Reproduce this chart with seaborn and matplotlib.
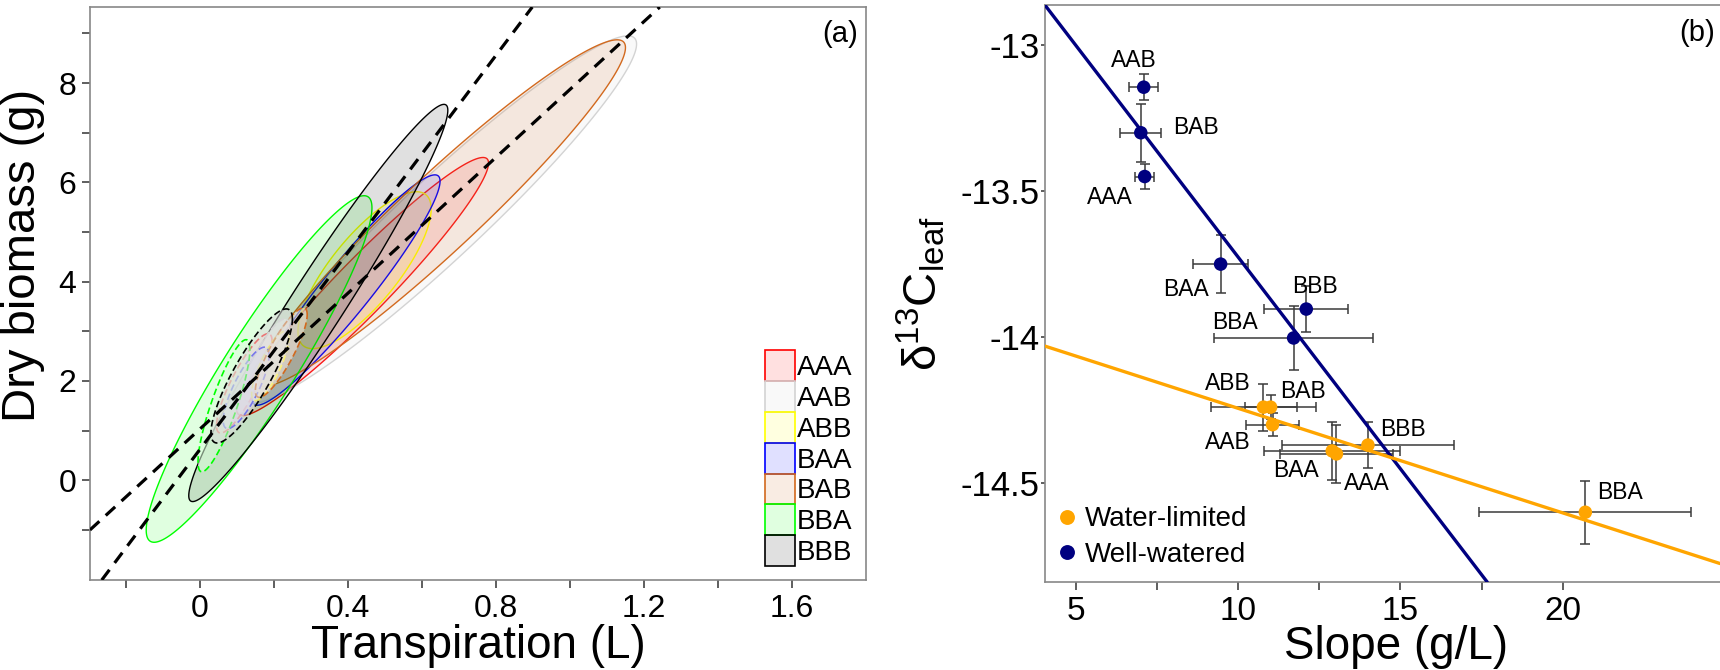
import numpy as np
import pandas as pd
import matplotlib
matplotlib.use('Agg')
import matplotlib.pyplot as plt
import seaborn as sns
from matplotlib.colors import to_rgba, to_rgb
from matplotlib.patches import Patch
from matplotlib.ticker import FixedLocator

# ---- panel (a): ellipses per genotype (centre, half-range x / y, correlation)
genotypes = ['AAA', 'AAB', 'ABB', 'BAA', 'BAB', 'BBA', 'BBB']
geno_colors = ['#FF0000', '#D3D3D3', '#FFFF00', '#0000FF', '#D2691E', '#00FF00', '#000000']

# large (solid) ellipses
solid_mx = [0.44, 0.65, 0.445, 0.395, 0.65, 0.16, 0.32]
solid_my = [3.9, 5.25, 4.23, 3.83, 5.38, 2.24, 3.57]
solid_ax = [0.34, 0.53, 0.18, 0.254, 0.50, 0.305, 0.35]
solid_by = [2.6, 3.7, 1.58, 2.32, 3.49, 3.49, 4.0]
solid_rho = [0.956, 0.955, 0.78, 0.945, 0.955, 0.93, 0.97]

# small (dashed) ellipses
dash_mx = [0.12, 0.17, 0.19, 0.125, 0.22, 0.065, 0.14]
dash_my = [1.95, 2.3, 2.3, 1.86, 2.57, 1.5, 2.1]
dash_ax = [0.075, 0.07, 0.05, 0.062, 0.07, 0.07, 0.11]
dash_by = [1.0, 0.95, 0.7, 0.82, 0.9, 1.33, 1.35]
dash_rho = [0.85, 0.85, 0.8, 0.8, 0.85, 0.85, 0.85]

# dashed fit lines in panel (a)
fit_a_slope = [9.92, 6.84]
fit_a_icpt = [0.62, 1.03]

# ---- panel (b)
b_geno = ['AAB', 'BAB', 'AAA', 'BAA', 'BBB', 'BBA',
          'ABB', 'BAB', 'AAB', 'BAA', 'AAA', 'BBB', 'BBA']
b_treat = ['Well-watered'] * 6 + ['Water-limited'] * 7
b_slope = [7.09, 7.0, 7.12, 9.46, 12.1, 11.71,
           10.78, 11.0, 11.06, 12.9, 13.03, 14.0, 20.7]
b_slope_err = [0.45, 0.63, 0.3, 0.85, 1.3, 2.45,
               1.63, 0.8, 0.83, 2.1, 1.75, 2.66, 3.27]
b_d13c = [-13.144, -13.30, -13.45, -13.75, -13.904, -14.003,
          -14.24, -14.24, -14.30, -14.39, -14.40, -14.37, -14.60]
b_d13c_err = [0.045, 0.1, 0.043, 0.1, 0.08, 0.11,
              0.08, 0.04, 0.04, 0.1, 0.1, 0.08, 0.108]

fit_b_treat = ['Well-watered', 'Water-limited']
fit_b_slope = [-0.145, -0.0358]
fit_b_icpt = [-12.276, -13.886]

treat_colors = {'Water-limited': '#FFA500', 'Well-watered': '#000080'}

# label offsets (points) for panel (b)
label_offsets = [(-7, 19), (40, 4), (-25, -15), (-25, -18), (6, 16), (-42, 11),
                 (-26, 17), (23, 11), (-32, -13), (-26, -14), (22, -21), (25, 11), (25, 14)]

sns.set_theme(style='ticks')
plt.rcParams['font.family'] = ['Liberation Sans', 'DejaVu Sans']
plt.rcParams['mathtext.fontset'] = 'custom'
plt.rcParams['mathtext.rm'] = 'Liberation Sans'
for k in ('text.color', 'axes.labelcolor', 'xtick.color', 'ytick.color'):
    plt.rcParams[k] = 'black'

fig = plt.figure(figsize=(17.2, 6.7), dpi=100)
ax1 = fig.add_axes([0.0523, 0.1343, 0.4512, 0.8552])
ax2 = fig.add_axes([0.6076, 0.1313, 0.3924, 0.861])


def ellipse_xy(mx, my, a, b, rho, n=240):
    t = np.linspace(0, 2 * np.pi, n)
    x = mx + a * np.cos(t)
    y = my + b * (rho * np.cos(t) + np.sqrt(1 - rho ** 2) * np.sin(t))
    return x, y


for i, g in enumerate(genotypes):
    x, y = ellipse_xy(solid_mx[i], solid_my[i], solid_ax[i], solid_by[i], solid_rho[i])
    ax1.fill(x, y, facecolor=to_rgba(geno_colors[i], 0.12), edgecolor=geno_colors[i],
             linewidth=1.0, zorder=2)

for i, g in enumerate(genotypes):
    x, y = ellipse_xy(dash_mx[i], dash_my[i], dash_ax[i], dash_by[i], dash_rho[i])
    c = np.array(to_rgb(geno_colors[i]))
    pale = 0.85 * np.ones(3) + 0.15 * c
    ax1.fill(x, y, facecolor=(*pale, 0.55), edgecolor=geno_colors[i],
             linewidth=1.2, linestyle=(0, (4, 2)), zorder=3)

for s, b in zip(fit_a_slope, fit_a_icpt):
    ax1.axline((0, b), slope=s, color='black', linewidth=2.3, dashes=(4, 2.7), zorder=5)

ax1.set_xlim(-0.297, 1.80)
ax1.set_ylim(-2.01, 9.53)
ax1.xaxis.set_major_locator(FixedLocator([0, 0.4, 0.8, 1.2, 1.6]))
ax1.xaxis.set_minor_locator(FixedLocator([-0.2, 0.2, 0.6, 1.0, 1.4]))
ax1.set_xticklabels(['0', '0.4', '0.8', '1.2', '1.6'])
ax1.yaxis.set_major_locator(FixedLocator([0, 2, 4, 6, 8]))
ax1.yaxis.set_minor_locator(FixedLocator([-1, 1, 3, 5, 7, 9]))
ax1.set_xlabel('Transpiration (L)', fontsize=33)
ax1.set_ylabel('Dry biomass (g)', fontsize=34)
ax1.xaxis.set_label_coords(0.5, -0.077)
ax1.yaxis.set_label_coords(-0.058, 0.567)
ax1.text(0.966, 0.953, '(a)', transform=ax1.transAxes, ha='center', va='center', fontsize=21)

handles = [Patch(facecolor=to_rgba(c, 0.12), edgecolor=c, linewidth=1.2) for c in geno_colors]
ax1.legend(handles, genotypes, loc='lower right', frameon=False, fontsize=20,
           handlelength=1.08, handleheight=1.33, labelspacing=0.0, handletextpad=0.05,
           borderpad=0.0, borderaxespad=0.5)

# ---- panel (b)
df_b = pd.DataFrame({'genotype': b_geno, 'treatment': b_treat, 'slope': b_slope,
                     'slope_err': b_slope_err, 'd13c': b_d13c, 'd13c_err': b_d13c_err})

ax2.errorbar(df_b['slope'], df_b['d13c'], xerr=df_b['slope_err'], yerr=df_b['d13c_err'],
             fmt='none', ecolor='#3a3a3a', elinewidth=1.1, capsize=3.5, capthick=1.1, zorder=2)

for t, s, b in zip(fit_b_treat, fit_b_slope, fit_b_icpt):
    ax2.axline((0, b), slope=s, color=treat_colors[t], linewidth=2.4, zorder=3)

sns.scatterplot(data=df_b, x='slope', y='d13c', hue='treatment',
                hue_order=['Water-limited', 'Well-watered'], palette=treat_colors,
                s=95, edgecolor='none', linewidth=0, ax=ax2, zorder=4)

for i, row in df_b.iterrows():
    ax2.annotate(row['genotype'], (row['slope'], row['d13c']), xytext=label_offsets[i],
                 textcoords='offset points', ha='center', va='center', fontsize=16.5)

ax2.set_xlim(4.05, 24.85)
ax2.set_ylim(-14.839, -12.863)
ax2.xaxis.set_major_locator(FixedLocator([5, 10, 15, 20]))
ax2.xaxis.set_minor_locator(FixedLocator([7.5, 12.5, 17.5]))
ax2.yaxis.set_major_locator(FixedLocator([-13, -13.5, -14, -14.5]))
ax2.set_yticklabels(['-13', '-13.5', '-14', '-14.5'])
ax2.set_xlabel('Slope (g/L)', fontsize=33)
ax2.set_ylabel(r'$\mathregular{\delta^{13}C_{leaf}}$', fontsize=34)
ax2.xaxis.set_label_coords(0.52, -0.075)
ax2.yaxis.set_label_coords(-0.145, 0.5)
ax2.text(0.966, 0.951, '(b)', transform=ax2.transAxes, ha='center', va='center', fontsize=21)

h, l = ax2.get_legend_handles_labels()
ax2.legend(h, l, loc='lower left', frameon=False, fontsize=20, handlelength=0.6,
           handletextpad=0.35, labelspacing=0.35, borderpad=0.0, borderaxespad=0.5,
           markerscale=1.1)

for ax in (ax1, ax2):
    for sp in ax.spines.values():
        sp.set_color('#888888')
        sp.set_linewidth(1.2)
    ax.tick_params(which='both', direction='out', color='#333333', width=1.1)

ax1.tick_params(which='both', length=6, labelsize=23, pad=4)
ax2.tick_params(axis='x', which='both', length=6, labelsize=24, pad=4)
ax2.tick_params(axis='y', which='both', length=3, labelsize=25, pad=1)
ax2.spines['right'].set_visible(False)

fig.savefig('out.png', dpi=100)
